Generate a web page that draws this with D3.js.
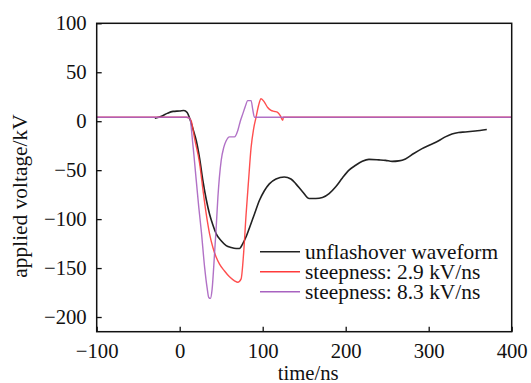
<!DOCTYPE html>
<html>
<head>
<meta charset="utf-8">
<script src="https://cdn.jsdelivr.net/npm/d3@7"></script>
<style>
  html, body { margin: 0; padding: 0; background: #fff; }
  svg { display: block; }
  svg text { font-family: "Liberation Serif", "Times New Roman", serif; fill: #111; }
</style>
</head>
<body>
<svg id="chart" width="531" height="383"></svg>
<script>
// ---- data ----
const xTicks = [-100, 0, 100, 200, 300, 400];
const yTicks = [-200, -150, -100, -50, 0, 50, 100];

const seriesNames = ["unflashover waveform", "steepness: 2.9 kV/ns", "steepness: 8.3 kV/ns"];
const seriesColors = ["#222222", "#ff3b3b", "#a862c0"];

const unflashT = [-30, -22, -15, -8, 0, 5, 9, 12, 16, 20, 24, 28, 32, 36, 40, 44, 50, 56, 62, 68, 72, 76, 80, 84, 90, 96, 102, 108, 116, 126, 134, 140, 148, 156, 164, 172, 180, 188, 196, 204, 212, 220, 228, 240, 248, 256, 264, 272, 282, 292, 302, 312, 320, 328, 336, 344, 356, 370];
const unflashV = [3, 5, 8, 10, 10.5, 11, 9, 3, -8, -20, -38, -61, -80, -95, -106, -115, -122, -127, -129, -130, -130, -125, -118, -109, -95, -81, -71, -64, -59, -57, -59, -64, -72, -79, -79, -78, -74, -67, -58, -50, -45, -41, -39, -39.5, -40, -41, -40.5, -38.5, -33, -28, -24, -20, -16, -13, -11.5, -11, -10, -8.5];

const red29T = [-100, 0, 8, 12, 14, 18, 24, 28, 32, 36, 40, 44, 48, 54, 60, 66, 70, 74, 77, 80, 83, 86, 89, 92, 95, 98, 102, 106, 110, 114, 118, 121, 124, 125, 400];
const red29V = [4, 4, 4, 3, 0, -18, -43, -70, -95, -115, -129, -139, -146, -153, -159, -163, -164.5, -161, -135, -95, -60, -27, -8, 4, 16, 23, 19.5, 14, 11, 10, 9, 6, 1, 4, 4];

const pur83T = [-100, 0, 8, 12, 16, 20, 23, 26, 30, 33, 35, 37, 39, 42, 44, 46, 50, 53, 56, 60, 66, 70, 73, 76, 79, 82, 86, 88, 90, 93, 400];
const pur83V = [4, 4, 4, 3, -25, -61, -88, -112, -149, -170, -180, -181, -172, -135, -108, -78, -40, -27, -20, -16, -16, -9.5, 0, 7.5, 15, 21, 21, 12, 4, 4, 4];

// ---- layout ----
const svg = d3.select("#chart");
const L = 96.7, R = 511.7, T = 23.3, B = 331.7;
const x = d3.scaleLinear().domain([-100, 400]).range([L, R]);
const y = d3.scaleLinear().domain([-215, 100]).range([B, T]);
const fsTick = 20.7, fsBig = 21.4;
const serif = '"Liberation Serif", "Times New Roman", serif';

// lines
const series = [
  { t: unflashT, v: unflashV },
  { t: red29T, v: red29V },
  { t: pur83T, v: pur83V }
];
const line = d3.line().x(d => x(d[0])).y(d => y(d[1])).curve(d3.curveMonotoneX);

svg.append("clipPath").attr("id", "clip")
  .append("rect").attr("x", L).attr("y", T).attr("width", R - L).attr("height", B - T);

const g = svg.append("g").attr("clip-path", "url(#clip)");
[0, 1, 2].forEach(i => {
  const pts = series[i].t.map((t, k) => [t, series[i].v[k]]);
  g.append("path")
    .attr("d", line(pts))
    .attr("fill", "none")
    .attr("stroke", seriesColors[i])
    .attr("stroke-width", i === 0 ? 1.6 : 1.4)
    .attr("stroke-opacity", i === 0 ? 1 : 0.9)
    .attr("stroke-linejoin", "round");
});

// frame
svg.append("rect").attr("x", L).attr("y", T).attr("width", R - L).attr("height", B - T)
  .attr("fill", "none").attr("stroke", "#111").attr("stroke-width", 1.5);

// axes
const fmt = d => d < 0 ? "\u2212" + Math.abs(d) : d;
const yAxis = d3.axisLeft(y).tickValues(yTicks).tickSize(-5).tickPadding(10).tickFormat(fmt);
const ya = svg.append("g").attr("transform", `translate(${L},0)`).call(yAxis)
  .attr("font-family", serif).attr("font-size", fsTick);
ya.select(".domain").remove();
ya.selectAll("line").attr("stroke", "#111").attr("stroke-width", 1.3);
ya.selectAll("text").attr("fill", "#111");

const xAxis = d3.axisBottom(x).tickValues(xTicks).tickSize(-5).tickPadding(12).tickFormat(fmt);
const xa = svg.append("g").attr("transform", `translate(0,${B})`).call(xAxis)
  .attr("font-family", serif).attr("font-size", fsTick);
xa.select(".domain").remove();
xa.selectAll("line").attr("stroke", "#111").attr("stroke-width", 1.3);
xa.selectAll("text").attr("fill", "#111");

// axis titles
svg.append("text").attr("x", (L + R) / 2 + 4).attr("y", 380).attr("text-anchor", "middle")
  .attr("font-family", serif).attr("font-size", fsTick).text("time/ns");
svg.append("text").attr("transform", "translate(27,196) rotate(-90)").attr("text-anchor", "middle")
  .attr("font-family", serif).attr("font-size", fsBig).text("applied voltage/kV");

// legend
const lg = svg.append("g").attr("font-family", serif).attr("font-size", fsBig);
seriesNames.forEach((name, i) => {
  const yy = 251.7 + i * 20;
  lg.append("line").attr("x1", 260).attr("x2", 300).attr("y1", yy).attr("y2", yy)
    .attr("stroke", seriesColors[i]).attr("stroke-width", 1.6);
  lg.append("text").attr("x", 305).attr("y", yy).attr("dy", "0.32em").text(name);
});
</script>
</body>
</html>
